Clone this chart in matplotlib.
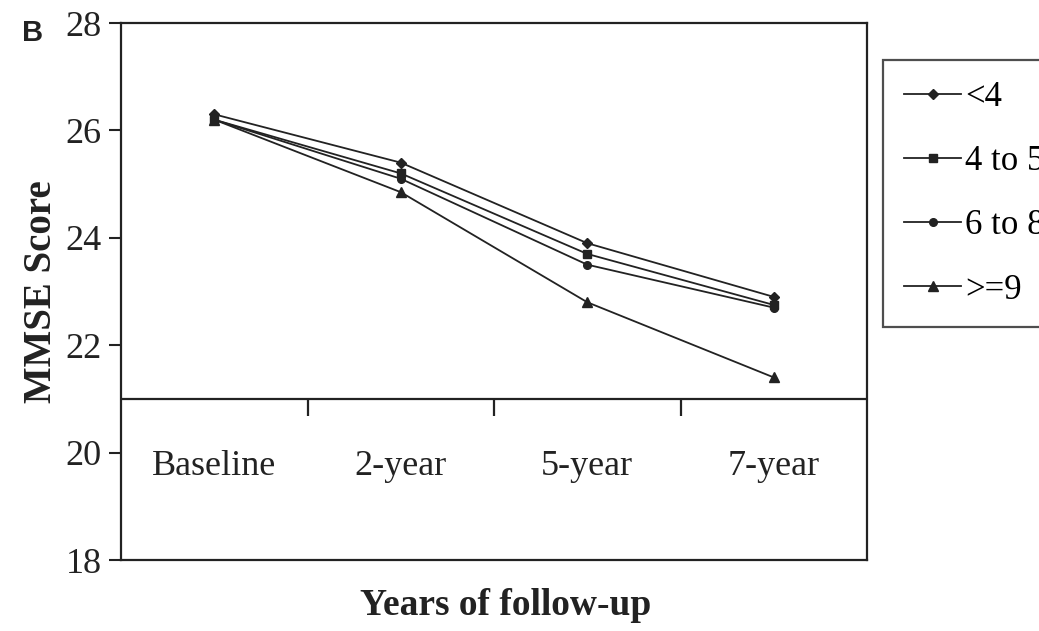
import matplotlib.pyplot as plt

# data
categories = ['Baseline', '2-year', '5-year', '7-year']
groups = ['<4', '4 to 5', '6 to 8', '>=9']
mmse_lt4 = [26.3, 25.4, 23.9, 22.9]
mmse_4to5 = [26.2, 25.2, 23.7, 22.75]
mmse_6to8 = [26.2, 25.1, 23.5, 22.7]
mmse_ge9 = [26.2, 24.85, 22.8, 21.4]
yticks = [18, 20, 22, 24, 26, 28]

plt.rcParams['font.family'] = ['Liberation Serif', 'DejaVu Serif']
ink = '#222222'

fig = plt.figure(figsize=(10.39, 6.31), dpi=100)
ax = fig.add_axes([0.1165, 0.1125, 0.718, 0.851])

xs = [i + 0.5 for i in range(len(categories))]
series = [mmse_lt4, mmse_4to5, mmse_6to8, mmse_ge9]
markers = ['D', 's', 'o', '^']
msizes = [5.5, 5.5, 5.5, 7.5]
for vals, lab, m, ms in zip(series, groups, markers, msizes):
    ax.plot(xs, vals, color=ink, lw=1.3, marker=m, ms=ms, label=lab)

# the category axis sits at 21, labels underneath inside the box
ax.axhline(21, color=ink, lw=1.6)
ax.vlines([1, 2, 3], 20.68, 21, color=ink, lw=1.6)
for x, c in zip(xs, categories):
    ax.text(x, 19.75, c, ha='center', va='center', fontsize=26, color=ink)

ax.set_xlim(0, 4)
ax.set_ylim(18, 28)
ax.set_xticks([])
ax.set_yticks(yticks)
ax.tick_params(axis='y', labelsize=26, length=9, width=1.5, pad=5, colors=ink)
for s in ax.spines.values():
    s.set_linewidth(1.6)
    s.set_color(ink)

ax.set_ylabel('MMSE Score', fontsize=28, fontweight='bold', color=ink, labelpad=4)
fig.text(0.487, 0.04, 'Years of follow-up', ha='center', va='center',
         fontsize=27, fontweight='bold', color=ink)
fig.text(0.021, 0.948, 'B', fontsize=21, fontweight='bold', family='Liberation Sans',
         color=ink, va='center')

leg = ax.legend(loc='upper left', bbox_to_anchor=(0.85, 0.905),
                bbox_transform=fig.transFigure, fontsize=25, frameon=True,
                fancybox=False, edgecolor=ink, handlelength=1.65, handletextpad=0.12,
                labelspacing=0.9, borderpad=0.6, borderaxespad=0)
leg.get_frame().set_linewidth(1.6)

fig.savefig('out.png', dpi=100)
